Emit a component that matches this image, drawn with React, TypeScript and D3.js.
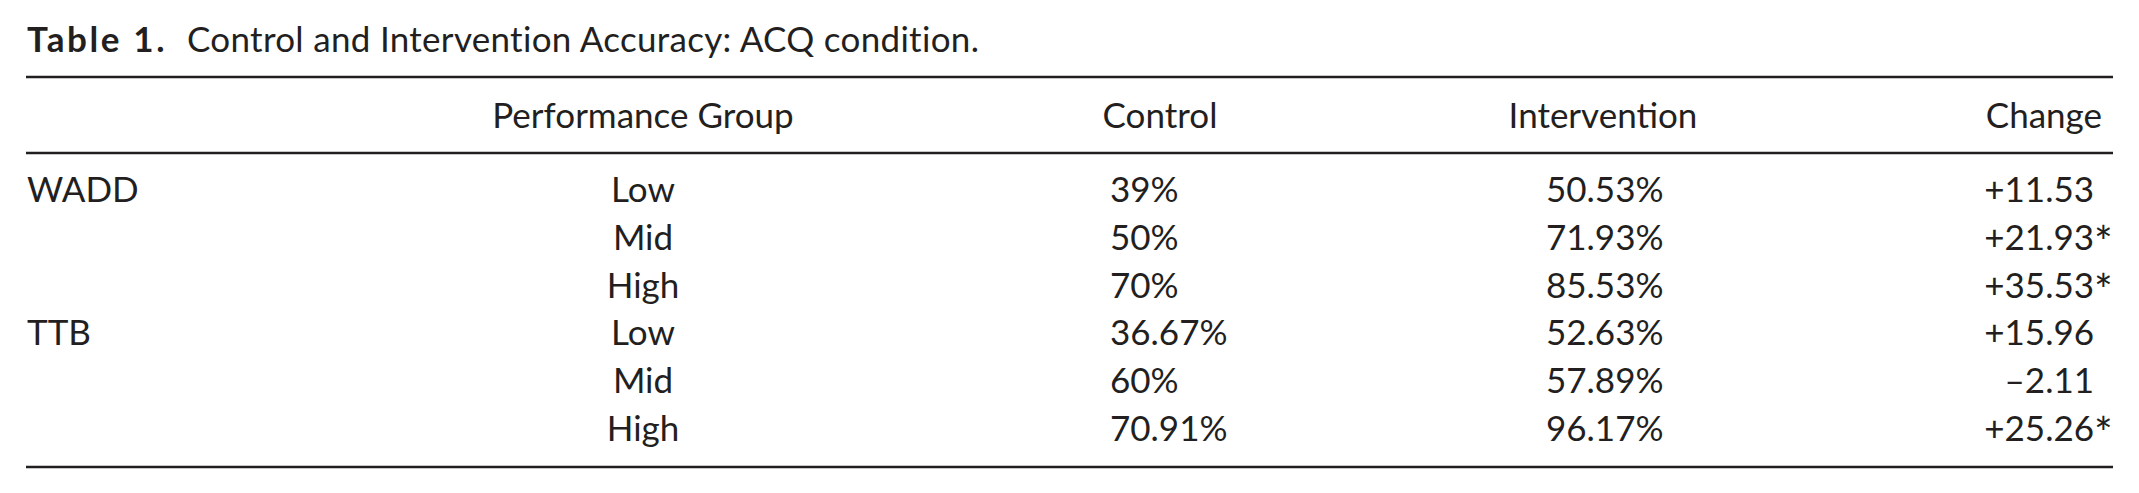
import React, { FC, useEffect } from 'react';
import * as d3 from 'd3';

const title = 'Control and Intervention Accuracy: ACQ condition.';
const tableLabel = 'Table 1.';
const headers = ['Performance Group', 'Control', 'Intervention', 'Change'];
const strategies = ['WADD', 'TTB'];
const groups = ['Low', 'Mid', 'High'];
const control = [39, 50, 70, 36.67, 60, 70.91];
const intervention = [50.53, 71.93, 85.53, 52.63, 57.89, 96.17];
const change = [11.53, 21.93, 35.53, 15.96, -2.11, 25.26];
const significant = [false, true, true, false, false, true];

const W = 2139;
const H = 493;
const INK = '#231f20';
const FONT = 'Lato, "Open Sans", sans-serif';

const pct = (d: number) => `${d}%`;
const signed = (d: number) => (d < 0 ? `\u2013${Math.abs(d).toFixed(2)}` : `+${d.toFixed(2)}`);

const App: FC = () => {
  useEffect(() => {
    document.body.style.margin = '0';
  }, []);

  return (
    <div
      ref={(elem) => {
        if (!elem) {
          return;
        }
        elem.innerHTML = '';
        elem.appendChild(table());
      }}
    />
  );
};

const table = () => {
  const rows = d3.range(strategies.length * groups.length);
  const y = d3.scalePoint<number>().domain(rows).range([202, 441]);
  const x = { label: 27, group: 643, control: 1110, controlHead: 1160, interv: 1546, intervHead: 1603, change: 2094, changeHead: 2102 };
  const rule = { left: 26, right: 2113, top: 77, mid: 153, bottom: 467 };

  const svg = d3
    .create('svg')
    .attr('width', W)
    .attr('height', H)
    .attr('viewBox', `0 0 ${W} ${H}`)
    .style('display', 'block')
    .attr('font-family', FONT)
    .attr('font-size', 35)
    .attr('fill', INK);

  svg.append('rect').attr('width', W).attr('height', H).attr('fill', '#fff');

  // caption
  const cap = svg.append('g');
  cap
    .append('text')
    .attr('x', 27)
    .attr('y', 52)
    .attr('font-weight', 700)
    .attr('letter-spacing', 2.6)
    .text(tableLabel);
  cap.append('text').attr('x', 187).attr('y', 52).attr('letter-spacing', 0.3).text(title);

  // rules
  svg
    .append('g')
    .attr('stroke', INK)
    .attr('stroke-width', 2.4)
    .selectAll('line')
    .data([rule.top, rule.mid, rule.bottom])
    .join('line')
    .attr('x1', rule.left)
    .attr('x2', rule.right)
    .attr('y1', (d) => d)
    .attr('y2', (d) => d);

  // header
  const head = svg.append('g').attr('transform', 'translate(0,128)');
  const headPos: Array<[number, string]> = [
    [x.group, 'middle'],
    [x.controlHead, 'middle'],
    [x.intervHead, 'middle'],
    [x.changeHead, 'end'],
  ];
  head
    .selectAll('text')
    .data(headers)
    .join('text')
    .attr('x', (_, i) => headPos[i][0])
    .attr('text-anchor', (_, i) => headPos[i][1])
    .text((d) => d);

  // body
  const body = svg.append('g');
  body
    .selectAll('text.strategy')
    .data(strategies)
    .join('text')
    .attr('class', 'strategy')
    .attr('x', x.label)
    .attr('y', (_, i) => y(i * groups.length) ?? 0)
    .text((d) => d);

  body
    .selectAll('text.group')
    .data(rows)
    .join('text')
    .attr('class', 'group')
    .attr('x', x.group)
    .attr('y', (d) => y(d) ?? 0)
    .attr('text-anchor', 'middle')
    .text((d) => groups[d % groups.length]);

  body
    .selectAll('text.control')
    .data(control)
    .join('text')
    .attr('class', 'control')
    .attr('x', x.control)
    .attr('y', (_, i) => y(i) ?? 0)
    .text(pct);

  body
    .selectAll('text.interv')
    .data(intervention)
    .join('text')
    .attr('class', 'interv')
    .attr('x', x.interv)
    .attr('y', (_, i) => y(i) ?? 0)
    .text(pct);

  body
    .selectAll('text.change')
    .data(change)
    .join('text')
    .attr('class', 'change')
    .attr('x', x.change)
    .attr('y', (_, i) => y(i) ?? 0)
    .attr('text-anchor', 'end')
    .text(signed);

  // significance marks hang past the right edge of the numbers
  body
    .selectAll('text.sig')
    .data(rows.filter((i) => significant[i]))
    .join('text')
    .attr('class', 'sig')
    .attr('x', x.change)
    .attr('y', (d) => (y(d) ?? 0) + 8)
    .attr('font-size', 44)
    .text('*');

  return svg.node() as SVGSVGElement;
};

export default App;
